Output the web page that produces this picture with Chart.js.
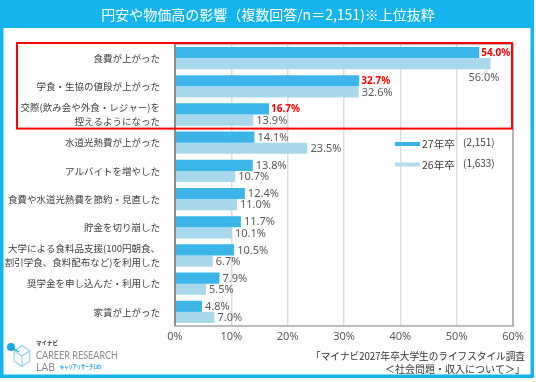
<!DOCTYPE html>
<html><head><meta charset="utf-8">
<script src="https://cdn.jsdelivr.net/npm/chart.js@4.4.1/dist/chart.umd.min.js"></script>
<style>html,body{margin:0;padding:0;background:#fff;}#wrap{width:536px;height:382px;position:relative;}</style>
</head><body><div id="wrap"><canvas id="c" width="536" height="382"></canvas></div>
<script>
const categories = [
  '食費が上がった',
  '学食・生協の値段が上がった',
  ['交際(飲み会や外食・レジャー)を', '控えるようになった'],
  '水道光熱費が上がった',
  'アルバイトを増やした',
  '食費や水道光熱費を節約・見直した',
  '貯金を切り崩した',
  ['大学による食料品支援(100円朝食、', '割引学食、食料配布など)を利用した'],
  '奨学金を申し込んだ・利用した',
  '家賃が上がった'
];
const seriesNames = ['27年卒', '26年卒'];
const seriesN = ['(2,151)', '(1,633)'];
const values27 = [54.0, 32.7, 16.7, 14.1, 13.8, 12.4, 11.7, 10.5, 7.9, 4.8];
const values26 = [56.0, 32.6, 13.9, 23.5, 10.7, 11.0, 10.1, 6.7, 5.5, 7.0];
const xTicks = [0, 10, 20, 30, 40, 50, 60];
const titleText = '円安や物価高の影響（複数回答/n＝2,151)※上位抜粋';
const sourceLines = ['「マイナビ2027年卒大学生のライフスタイル調査', '＜社会問題・収入について＞」'];

const CYAN = '#15B4EE';
const C27 = '#3CB6E8';
const C26 = '#A8D8EC';
const JP = "'Noto Sans CJK JP', 'Noto Sans', sans-serif";

const framePlugin = {
  id: 'frame',
  beforeDraw(chart) {
    const ctx = chart.ctx;
    ctx.save();
    ctx.fillStyle = '#fff';
    ctx.fillRect(0, 0, 536, 382);
    ctx.fillStyle = CYAN;
    ctx.fillRect(0, 0, 534, 28);
    ctx.strokeStyle = CYAN;
    ctx.lineWidth = 3.5;
    ctx.strokeRect(1.75, 1.75, 530.5, 374.5);
    ctx.fillStyle = '#fff';
    ctx.font = '14px ' + JP;
    ctx.textAlign = 'center';
    ctx.textBaseline = 'middle';
    ctx.fillText(titleText, 268, 14.5, 336);
    ctx.restore();
  },
  beforeDatasetsDraw(chart) {
    const ctx = chart.ctx, a = chart.chartArea;
    ctx.save();
    ctx.strokeStyle = '#A6A6A6';
    ctx.lineWidth = 1.5;
    ctx.strokeRect(a.left, a.top, a.right - a.left, a.bottom - a.top);
    ctx.restore();
  },
  afterDraw(chart) {
    const ctx = chart.ctx, a = chart.chartArea;
    const y = chart.scales.y;
    ctx.save();
    ctx.strokeStyle = '#7F7F7F';
    ctx.lineWidth = 1.5;
    ctx.beginPath(); ctx.moveTo(a.left, a.top); ctx.lineTo(a.left, a.bottom); ctx.stroke();
    const yb = (y.getPixelForValue(2) + y.getPixelForValue(3)) / 2;
    ctx.strokeStyle = '#FF0000';
    ctx.lineWidth = 2;
    ctx.strokeRect(17, a.top - 1, a.right - 1 - 17, yb - a.top + 1);
    const lx = 395;
    const ly = [144, 164.5];
    const lc = [C27, '#B2DDF0'];
    for (let i = 0; i < 2; i++) {
      ctx.strokeStyle = lc[i];
      ctx.lineWidth = 4;
      ctx.beginPath(); ctx.moveTo(lx, ly[i]); ctx.lineTo(lx + 25, ly[i]); ctx.stroke();
      ctx.fillStyle = '#404040';
      ctx.textAlign = 'left';
      ctx.textBaseline = 'middle';
      ctx.font = '10.5px ' + JP;
      ctx.fillText(seriesNames[i], 422, ly[i] + 0.5);
      ctx.font = '10px ' + JP;
      ctx.fillText(seriesN[i], 463, ly[i] - 1.5);
    }
    ctx.fillStyle = '#333';
    ctx.textAlign = 'right';
    ctx.textBaseline = 'middle';
    ctx.font = '10px ' + JP;
    ctx.fillText(sourceLines[0], 525, 356, 214);
    ctx.fillText(sourceLines[1], 525, 369);
    ctx.strokeStyle = '#9FD3EA';
    ctx.lineWidth = 1.3;
    const cx = 22, cy = 356, r = 9;
    ctx.beginPath();
    for (let k = 0; k < 6; k++) {
      const ang = k * Math.PI / 3 - Math.PI / 2;
      const px = cx + r * Math.cos(ang), py = cy + r * 1.15 * Math.sin(ang);
      if (k === 0) ctx.moveTo(px, py); else ctx.lineTo(px, py);
    }
    ctx.closePath(); ctx.stroke();
    ctx.beginPath();
    ctx.moveTo(cx - r * 0.87, cy - r * 0.57); ctx.lineTo(cx, cy); ctx.lineTo(cx + r * 0.87, cy - r * 0.57);
    ctx.moveTo(cx, cy); ctx.lineTo(cx, cy + r * 1.15);
    ctx.stroke();
    ctx.fillStyle = '#1AA6E0';
    ctx.beginPath(); ctx.arc(11, 347, 4, 0, Math.PI * 2); ctx.fill();
    ctx.strokeStyle = '#1AA6E0'; ctx.lineWidth = 1.2;
    ctx.beginPath(); ctx.moveTo(14, 349); ctx.lineTo(19, 352); ctx.stroke();
    ctx.textAlign = 'left';
    ctx.fillStyle = '#333';
    ctx.font = 'bold 5.5px ' + JP;
    ctx.fillText('マイナビ', 36, 343);
    ctx.fillStyle = '#8C8C8C';
    ctx.font = '11px Lato, "Noto Sans", sans-serif';
    ctx.fillText('CAREER RESEARCH', 36, 355, 82);
    ctx.fillText('LAB', 36, 367, 19);
    ctx.fillStyle = '#1AA6E0';
    ctx.font = 'bold 5.5px ' + JP;
    ctx.fillText('キャリアリサーチLab', 60, 367, 41);
    ctx.restore();
  },
  afterDatasetsDraw(chart) {
    const ctx = chart.ctx;
    ctx.save();
    ctx.textAlign = 'left';
    ctx.textBaseline = 'middle';
    chart.data.datasets.forEach((ds, di) => {
      const meta = chart.getDatasetMeta(di);
      meta.data.forEach((bar, i) => {
        const v = ds.data[i];
        const txt = v.toFixed(1) + '%';
        let x = bar.x + 3, yy = bar.y + 0.5;
        if (di === 0 && i < 3) {
          ctx.fillStyle = '#FF0000';
          ctx.font = 'bold 10px "Noto Sans", sans-serif';
          x = bar.x + 2;
        } else {
          ctx.fillStyle = '#595959';
          ctx.font = '11px "Noto Sans", sans-serif';
        }
        if (di === 1 && i === 0) {
          ctx.strokeStyle = '#BFBFBF';
          ctx.lineWidth = 1;
          ctx.beginPath();
          ctx.moveTo(bar.x - 3, bar.y + bar.height / 2 + 1);
          ctx.lineTo(bar.x - 9, bar.y + bar.height / 2 + 6);
          ctx.stroke();
          x = bar.x - 22; yy = bar.y + 14;
        }
        ctx.fillText(txt, x, yy);
      });
    });
    ctx.restore();
  }
};

new Chart(document.getElementById('c'), {
  type: 'bar',
  data: {
    labels: categories,
    datasets: [
      { label: seriesNames[0], data: values27, backgroundColor: C27, barPercentage: 1, categoryPercentage: 0.79 },
      { label: seriesNames[1], data: values26, backgroundColor: C26, barPercentage: 1, categoryPercentage: 0.79 }
    ]
  },
  options: {
    indexAxis: 'y',
    responsive: false,
    animation: false,
    layout: { padding: { left: 0, right: 23, top: 44, bottom: 0 } },
    plugins: { legend: { display: false }, tooltip: { enabled: false }, title: { display: false } },
    scales: {
      x: {
        min: xTicks[0], max: xTicks[xTicks.length - 1],
        afterBuildTicks(s) { s.ticks = xTicks.map(v => ({ value: v })); },
        afterFit(s) { s.height = 56; },
        ticks: { callback: v => v + '%', color: '#595959', font: { size: 11, family: '"Noto Sans", sans-serif' }, padding: 4 },
        grid: { color: '#DCDCDC', lineWidth: 1.5, drawTicks: false },
        border: { display: false }
      },
      y: {
        afterFit(s) { s.width = 175; },
        ticks: { color: '#404040', font: { size: 9.5, family: JP, lineHeight: 1.45 }, padding: 7, autoSkip: false },
        grid: { display: false },
        border: { display: false }
      }
    }
  },
  plugins: [framePlugin]
});
</script></body></html>
